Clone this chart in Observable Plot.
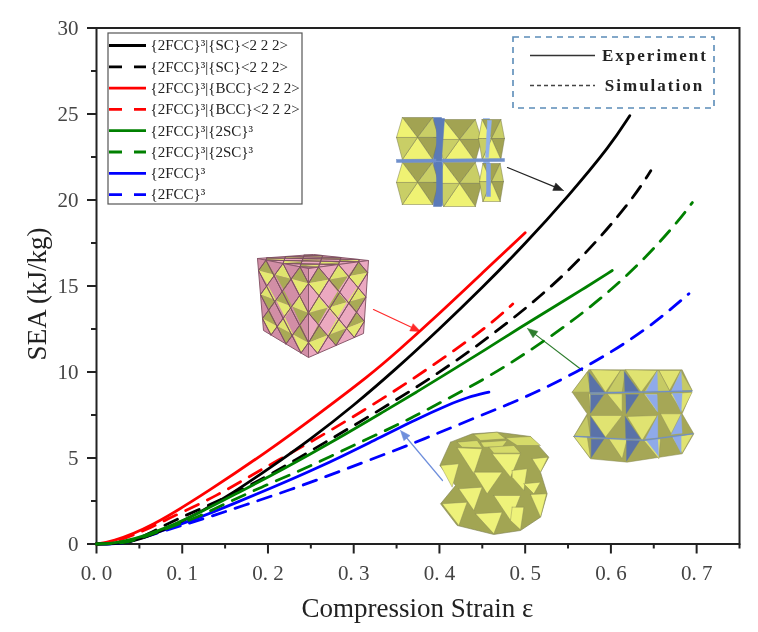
<!DOCTYPE html>
<html><head><meta charset="utf-8">
<script src="https://cdn.jsdelivr.net/npm/d3@7"></script>
<script src="https://cdn.jsdelivr.net/npm/@observablehq/plot@0.6"></script>
<style>
html,body{margin:0;padding:0;background:#fff}
svg{display:block;filter:blur(.35px)}
.spaced text{letter-spacing:2px}
</style></head><body><div id="chart"></div>
<script>
// ---------- chart values ----------
const seriesNames = ["{2FCC}³|{SC}<2 2 2>","{2FCC}³|{SC}<2 2 2>","{2FCC}³|{BCC}<2 2 2>","{2FCC}³|{BCC}<2 2 2>","{2FCC}³|{2SC}³","{2FCC}³|{2SC}³","{2FCC}³","{2FCC}³"];
const seriesColors = ["#000000","#000000","#ff0000","#ff0000","#008000","#008000","#0000ff","#0000ff"];
const seriesDashed = [false,true,false,true,false,true,false,true];

const blackExpX = [0,0.03,0.05,0.0825,0.1214,0.16,0.2,0.25,0.3,0.35,0.4,0.45,0.5,0.55,0.6,0.622];
const blackExpY = [0,0.02,0.25,0.9,1.85,3.0,4.35,6.1,8.05,10.2,12.5,14.9,17.45,20.2,23.2,24.9];
const blackSimX = [0,0.03,0.05,0.0864,0.1128,0.168,0.218,0.2665,0.3165,0.366,0.415,0.4617,0.5064,0.549,0.588,0.6268,0.6465];
const blackSimY = [0,0.02,0.3,1.27,1.85,3.1,4.47,5.9,7.37,8.88,10.48,12.18,13.92,15.8,17.84,20.16,21.7];
const redExpX = [0,0.0163,0.063,0.133,0.2,0.2575,0.3197,0.35,0.4,0.45,0.5];
const redExpY = [0,0.1,0.95,3.15,5.4,7.5,9.85,11.15,13.4,15.75,18.1];
const redSimX = [0,0.02,0.063,0.0825,0.113,0.141,0.164,0.2125,0.263,0.3127,0.362,0.409,0.4565,0.4855];
const redSimY = [0,0.03,0.94,1.45,2.15,2.85,3.5,4.9,6.3,7.8,9.35,10.96,12.65,13.95];
const greenExpX = [0,0.0163,0.043,0.0825,0.1214,0.16,0.218,0.2808,0.335,0.374,0.413,0.452,0.4947,0.533,0.565,0.6016];
const greenExpY = [0,0.02,0.25,0.95,1.85,2.85,4.35,6.1,7.7,8.85,10.05,11.25,12.6,13.77,14.74,15.9];
const greenSimX = [0,0.03,0.05,0.09,0.12,0.141,0.195,0.2487,0.3,0.353,0.4034,0.4555,0.5045,0.551,0.596,0.638,0.6775,0.695];
const greenSimY = [0,0.02,0.3,1.05,1.6,2.14,3.37,4.5,5.75,6.95,8.28,9.66,11.2,12.8,14.58,16.5,18.7,19.85];
const blueExpX = [0,0.028,0.043,0.0825,0.1214,0.16,0.199,0.2575,0.3197,0.374,0.413,0.4325,0.4577];
const blueExpY = [0,0.0,0.2,0.88,1.56,2.34,3.15,4.4,5.92,7.28,8.15,8.53,8.83];
const blueSimX = [0,0.03,0.043,0.09,0.1214,0.1717,0.2263,0.281,0.343,0.3917,0.443,0.4966,0.549,0.599,0.6465,0.691];
const blueSimY = [0,0.02,0.2,0.94,1.4,2.24,3.15,4.17,5.34,6.3,7.37,8.44,9.7,11.1,12.66,14.55];

const xMajor = [0,0.1,0.2,0.3,0.4,0.5,0.6,0.7];
const xMinor = [0.05,0.15,0.25,0.35,0.45,0.55,0.65,0.75];
const yMajor = [0,5,10,15,20,25,30];
const yMinor = [2.5,7.5,12.5,17.5,22.5,27.5];

const curveXs = [blackExpX,blackSimX,redExpX,redSimX,greenExpX,greenSimX,blueExpX,blueSimX];
const curveYs = [blackExpY,blackSimY,redExpY,redSimY,greenExpY,greenSimY,blueExpY,blueSimY];
const drawOrder = [7,6,3,2,1,0,5,4];

// ---------- picture-space helpers for annotations ----------
const W=758,H=632,L=96,R=739,T=27.5,B=543.5;
const toX=p=>(p-L)/(R-L)*0.75, toY=p=>(B-p)/(B-T)*30;
const serif="'Liberation Serif','Times New Roman',serif";

const curveRows = curveXs.map((xs,s)=>xs.map((x,i)=>({x,y:curveYs[s][i]})));

// Decorative polygons (insets)
const polys=[]; let pid=0;
function poly(pts,fill,stroke="#77784a",sw=0.5){const id=pid++;
  [...pts,pts[0]].forEach(p=>polys.push({id,x:toX(p[0]),y:toY(p[1]),fill,stroke,sw}));}
function octa(cx,cy,rx,ry,c1="#c9ce66",c2="#a2a352",c3="#eff273"){
  const v=[[cx-rx*.72,cy-ry],[cx+rx*.72,cy-ry],[cx+rx,cy-ry*.05],[cx+rx*.72,cy+ry],[cx-rx*.72,cy+ry],[cx-rx,cy-ry*.05]];
  const cols=[c2,c1,c2,c3,c1,c3];
  const mid=[cx,cy-ry*.05];
  v.forEach((a,i)=>poly([a,v[(i+1)%6],mid],cols[i]));
}
// inset A (top, black arrow)
poly([[433,117],[441,117],[441,206],[433,206]],"#5b7ab8","#5b7ab8");
poly([[483,118],[489,118],[489,200],[483,200]],"#8fb0ec","#8fb0ec");
[[417,138,21,21],[459,140,22,21],[491,139,13,20],[417,183,21,21],[459,184,22,22],[491,182,12,19]].forEach(o=>octa(...o));
poly([[396,159],[504,158],[504,161],[396,162]],"#6f8fcb","#6f8fcb");
poly([[436,118],[444,118],[441,160],[436,160]],"#5b7ab8","#5b7ab8");
poly([[436,162],[442,162],[442,205],[436,205]],"#5b7ab8","#5b7ab8");
poly([[487,120],[491,120],[488,157],[485,157]],"#8fb0ec","#8fb0ec");
poly([[486,163],[490,163],[490,196],[486,196]],"#7f9fe0","#7f9fe0");

// inset B (cube, red arrow)
function faceMap(a,b,c,d){return (u,v)=>[
  a[0]*(1-u)*(1-v)+b[0]*u*(1-v)+c[0]*u*v+d[0]*(1-u)*v,
  a[1]*(1-u)*(1-v)+b[1]*u*(1-v)+c[1]*u*v+d[1]*(1-u)*v];}
const cubeFaces=[
  [[257,258],[313,254],[368,260],[308,268]],
  [[257,258],[308,268],[308,357],[263,330]],
  [[308,268],[368,260],[363,333],[308,357]]];
cubeFaces.forEach((f,k)=>{
  const m=faceMap(...f); poly(f,k==1?"#d28ea6":"#eba9c0","#8a5a6c",1);
  const n=3,s=1/n;
  for(let i=0;i<n;i++)for(let j=0;j<n;j++){
    const cu=(i+.5)*s,cv=(j+.5)*s,h=s*.5;
    const odd=(i+j)%2===1;
    poly([m(cu-h,cv),m(cu,cv-h),m(cu+h,cv),m(cu,cv)],odd?"#dfe46e":"#a9aa55","none",0);
    poly([m(cu-h,cv),m(cu,cv+h),m(cu+h,cv),m(cu,cv)],odd?"#a9aa55":"#e4e971","none",0);
  }
  for(let t=0;t<2*n;t++){
    const c=(t+.5)*s;
    poly([m(Math.max(0,c-1),Math.min(c,1)),m(Math.min(c,1),Math.max(0,c-1))],"none","#7d5062",.9);
    const d=c-1;
    poly([m(Math.max(0,d),Math.max(0,-d)),m(Math.min(1,1+d),Math.min(1,1-d))],"none","#7d5062",.9);
  }
});

// crop helper for the two lower insets: points are given on a 3x grid from an origin
const crop=(ox,oy)=>pts=>pts.map(([a,b])=>[ox+a/3,oy+b/3]);
const cr=crop(430,330);
// inset C (green arrow)
poly(cr([[475,118],[755,118],[785,180],[755,250],[790,310],[755,370],[590,395],[480,385],[430,318],[470,250],[425,185]]),"#a6a756","#888a55");
const cLight="#e0e371", cMid="#c6ca64";
[[[480,118],[570,120],[525,185]],[[585,118],[680,120],[632,185]],[[685,120],[750,120],[717,180]],
 [[480,255],[575,255],[525,320]],[[590,258],[680,255],[635,330]],[[690,250],[752,250],[722,310]],
 [[522,190],[475,190],[480,245]],[[530,190],[575,190],[575,245]],[[640,190],[680,190],[680,245]],[[720,190],[785,185],[755,245]],
 [[430,318],[470,318],[480,383]],[[535,325],[590,325],[575,385]],[[640,330],[690,325],[685,385]],[[725,320],[788,310],[755,368]]
].forEach(p=>poly(cr(p),cLight,"#8a8b58",.4));
[[[425,185],[470,125],[480,185]],[[430,318],[470,255],[480,318]],[[570,120],[585,120],[575,185],[530,185]],[[680,120],[685,120],[718,182],[640,185]],[[750,120],[785,180],[722,182]]
].forEach(p=>poly(cr(p),cMid,"#8a8b58",.4));
const cDark="#5a72a8", cPale="#8faaea";
[[[475,125],[522,185],[478,185]],[[480,192],[520,192],[480,248]],[[480,258],[525,322],[480,322]],[[482,326],[520,326],[482,382]],
 [[581,122],[627,185],[583,185]],[[586,192],[625,192],[587,250]],[[584,258],[630,325],[586,325]],[[588,330],[628,330],[588,392]]
].forEach(p=>poly(cr(p),cDark,cDark,.3));
[[[680,122],[682,182],[645,185]],[[645,192],[680,192],[682,245]],[[682,255],[682,322],[645,325]],[[648,330],[682,325],[685,378]],
 [[752,122],[755,182],[722,182]],[[725,188],[755,188],[752,245]],[[752,252],[755,308],[722,312]],[[726,318],[752,316],[752,368]]
].forEach(p=>poly(cr(p),cPale,cPale,.3));
poly(cr([[480,186],[785,180],[785,183],[480,190]]),"#6f8ec8","#6f8ec8",.3);
poly(cr([[432,316],[525,322],[640,328],[788,308],[788,311],[640,331],[525,325],[432,319]]),"#6f8ec8","#6f8ec8",.3);

// inset D (blue arrow)
const dBright="#eef27a", dLight="#d6db6a", dDark="#a2a553";
poly(cr([[60,335],[125,310],[200,305],[300,318],[355,380],[330,425],[350,490],[330,560],[270,600],[190,612],[80,585],[30,520],[75,465],[28,405]]),dDark,"#808255",.6);
[[[130,312],[200,305],[225,325],[150,330]],[[225,322],[300,318],[330,345],[260,345]],[[150,335],[230,330],[215,350],[160,350]],[[80,335],[140,330],[155,352],[95,350]],[[175,350],[250,345],[270,368],[190,368]]
].forEach(p=>poly(cr(p),dLight,"#808255",.4));
[[[80,352],[155,355],[130,430]],[[130,425],[215,425],[170,490]],[[185,370],[270,370],[240,440]],[[85,475],[155,470],[130,540]],
 [[190,495],[270,495],[240,570]],[[135,550],[215,545],[190,610]],[[35,520],[110,515],[85,585]],[[30,405],[85,400],[65,470]],
 [[245,420],[290,415],[280,480],[245,440]],[[280,460],[330,455],[310,490]],[[305,385],[352,380],[330,425]],[[300,492],[348,490],[330,560]],[[245,530],[280,530],[270,598],[240,570]]
].forEach(p=>poly(cr(p),dBright,"#808255",.4));

// arrows
const arrows=[
 {x1:507,y1:167,x2:563,y2:190,c:"#222222"},
 {x1:373,y1:309,x2:420,y2:331,c:"#ff2a2a"},
 {x1:582,y1:370,x2:527,y2:328,c:"#2e7d2e"},
 {x1:442,y1:480,x2:400,y2:430,c:"#6f8fdc"}];
arrows.forEach(a=>{const d=Math.hypot(a.x2-a.x1,a.y2-a.y1),ux=(a.x2-a.x1)/d,uy=(a.y2-a.y1)/d,l=10,w=4;
  poly([[a.x2,a.y2],[a.x2-ux*l-uy*w,a.y2-uy*l+ux*w],[a.x2-ux*l+uy*w,a.y2-uy*l-ux*w]],a.c,a.c,.5);});
const arrowRows=arrows.map(a=>({x1:toX(a.x1),y1:toY(a.y1),x2:toX(a.x2-(a.x2-a.x1)*.08),y2:toY(a.y2-(a.y2-a.y1)*.08),c:a.c}));

// legend
const legendTop=45, legendStep=21.3;
const legendRows=seriesNames.map((name,i)=>({name,color:seriesColors[i],dashed:seriesDashed[i],y:toY(legendTop+i*legendStep),x1:toX(109),x2:toX(146),tx:toX(150)}));

const tickFmt=d=>d.toFixed(1).replace(".",". ");

const plot=Plot.plot({
  width:W,height:H,marginLeft:L,marginRight:W-R,marginTop:T,marginBottom:H-B,
  style:{fontFamily:serif,background:"#fff"},
  x:{domain:[0,0.75],axis:null},
  y:{domain:[0,30],axis:null},
  marks:[
    Plot.frame({stroke:"#222",strokeWidth:2}),
    Plot.axisX({ticks:xMinor,tickSize:5,tickFormat:()=>"",stroke:"#222",strokeWidth:2}),
    Plot.axisY({ticks:yMinor,tickSize:5,tickFormat:()=>"",stroke:"#222",strokeWidth:2}),
    Plot.axisX({ticks:xMajor,tickSize:10,tickPadding:11,tickFormat:tickFmt,fontSize:21,color:"#444",stroke:"#222",strokeWidth:2,label:null}),
    Plot.axisY({ticks:yMajor,tickSize:9,tickPadding:9,tickFormat:d=>String(d),fontSize:21,color:"#444",stroke:"#222",strokeWidth:2,label:null}),
    Plot.text(["Compression Strain ε"],{x:()=>toX(417),y:()=>toY(608),fontSize:27,fill:"#222"}),
    Plot.text(["SEA (kJ/kg)"],{x:()=>toX(37),y:()=>toY(293.5),rotate:-90,fontSize:27,fill:"#222"}),
    // insets
    Plot.line(polys,{x:"x",y:"y",z:"id",fill:"fill",stroke:"stroke",strokeWidth:"sw",curve:"linear"}),
    Plot.arrow(arrowRows,{x1:"x1",y1:"y1",x2:"x2",y2:"y2",stroke:"c",strokeWidth:1.2,headLength:0}),
    // curves
    ...drawOrder.map(i=>Plot.line(curveRows[i],{x:"x",y:"y",stroke:seriesColors[i],strokeWidth:2.8,strokeDasharray:seriesDashed[i]?"14,10":null,curve:"basis"})),
    // legend box
    Plot.rect([{}],{x1:()=>toX(108),x2:()=>toX(302),y1:()=>toY(33),y2:()=>toY(204),fill:"#fff",stroke:"#555",strokeWidth:1.2}),
    Plot.ruleY(legendRows.filter(d=>!d.dashed),{y:"y",x1:"x1",x2:"x2",stroke:"color",strokeWidth:2.8}),
    Plot.ruleY(legendRows.filter(d=>d.dashed),{y:"y",x1:"x1",x2:"x2",stroke:"color",strokeWidth:2.8,strokeDasharray:"13,12"}),
    Plot.text(legendRows,{x:"tx",y:"y",text:"name",textAnchor:"start",fontSize:15,fill:"#222"}),
    // experiment/simulation box
    Plot.rect([{}],{x1:()=>toX(513),x2:()=>toX(714),y1:()=>toY(37),y2:()=>toY(108),fill:"#fff",stroke:"#5b8cb8",strokeWidth:1.6,strokeDasharray:"6,5"}),
    Plot.ruleY([{}],{y:()=>toY(55),x1:()=>toX(530),x2:()=>toX(595),stroke:"#333",strokeWidth:1.3}),
    Plot.ruleY([{}],{y:()=>toY(85),x1:()=>toX(530),x2:()=>toX(595),stroke:"#444",strokeWidth:1.3,strokeDasharray:"4,3"}),
    Plot.text(["Experiment"],{x:()=>toX(654.5),y:()=>toY(55),fontSize:17,fontWeight:"bold",fill:"#222",className:"spaced"}),
    Plot.text(["Simulation"],{x:()=>toX(654),y:()=>toY(85),fontSize:17,fontWeight:"bold",fill:"#222",className:"spaced"})
  ]
});
document.getElementById("chart").append(plot);
</script></body></html>
